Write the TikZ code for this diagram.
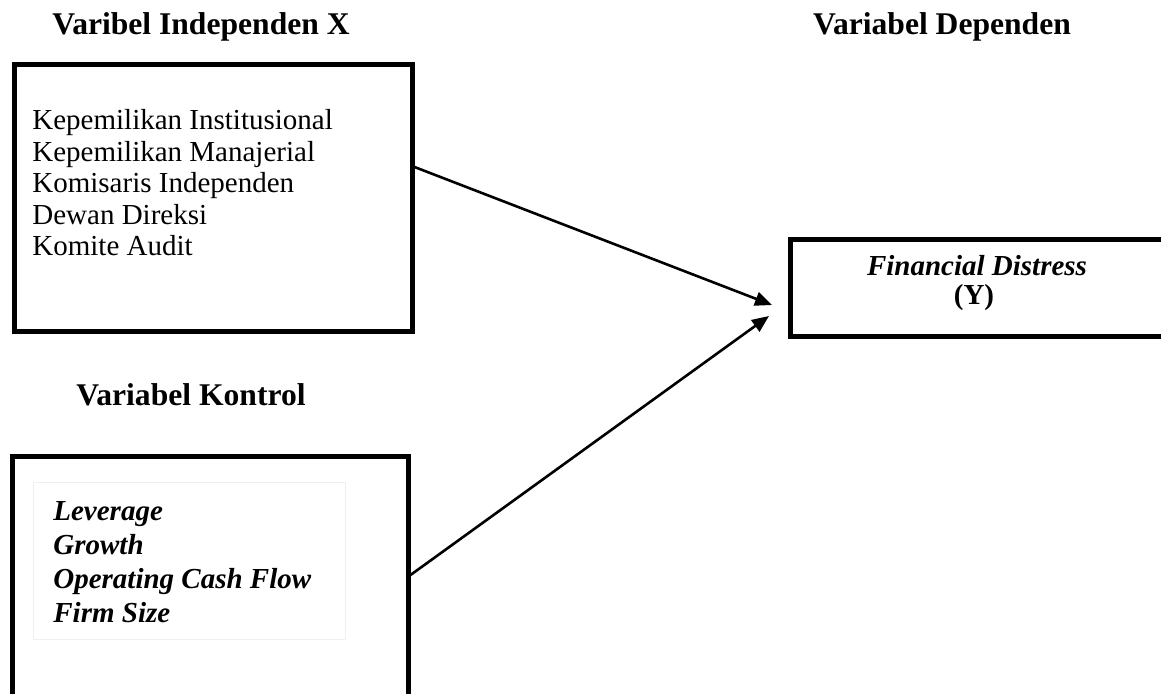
\documentclass[tikz,border=0pt]{standalone}
\usepackage{fontspec}
\setmainfont{Liberation Serif}
\usetikzlibrary{arrows.meta}
\tikzset{
  frame/.style={draw=black, line width=2.5pt, inner sep=0pt, rectangle},
  faint/.style={draw=black!6, line width=0.5pt, inner sep=0pt, rectangle},
  title/.style={font=\fontsize{15.8}{18}\selectfont\bfseries, inner sep=0pt, anchor=base},
  body/.style={font=\fontsize{14.5}{15.75}\selectfont, inner sep=0pt, align=left, anchor=base west},
  bodybi/.style={font=\fontsize{14.5}{17}\selectfont\bfseries\itshape, inner sep=0pt, align=left, anchor=base west},
  link/.style={line width=1.3pt, -{Triangle[length=8.5pt,width=7pt]}}
}
\begin{document}
\begin{tikzpicture}[x=0.5pt,y=-0.5pt]
\clip (0,0) rectangle (1161,694);
\fill[white] (0,0) rectangle (1161,694);
% titles
\node[title] (tx) at (201,35) {Varibel Independen X};
\node[title] (ty) at (942,35) {Variabel Dependen};
\node[title] (tk) at (191,406) {Variabel Kontrol};
% box 1
\node[frame, minimum width=398*0.5pt, minimum height=267.5*0.5pt] (b1) at (213,198) {};
\node[body] (x1) at (32,256) {Kepemilikan Institusional\\Kepemilikan Manajerial\\Komisaris Independen\\Dewan Direksi\\Komite Audit};
% box 2
\node[frame, minimum width=396*0.5pt, minimum height=300*0.5pt] (b2) at (210,607) {};
\node[faint, minimum width=312*0.5pt, minimum height=156*0.5pt] (b2i) at (189,561) {};
\node[bodybi] (k1) at (53,622) {Leverage\\Growth\\Operating Cash Flow\\Firm Size};
% box 3
\node[frame, minimum width=420*0.5pt, minimum height=97*0.5pt] (b3) at (1000,288.5) {};
\node[font=\fontsize{14.5}{14.5}\selectfont\bfseries\itshape, inner sep=0pt, anchor=base] (y1) at (977,276) {Financial Distress};
\node[font=\fontsize{14.5}{14.5}\selectfont\bfseries, inner sep=0pt, anchor=base] (y2) at (974,305) {(Y)};
% arrows
\coordinate (t1) at (772,305);
\coordinate (t2) at (769,316);
\draw[link] ([yshift=15.5pt]b1.east) -- (t1);
\draw[link] ([yshift=16pt]b2.east) -- (t2);
\end{tikzpicture}
\end{document}
